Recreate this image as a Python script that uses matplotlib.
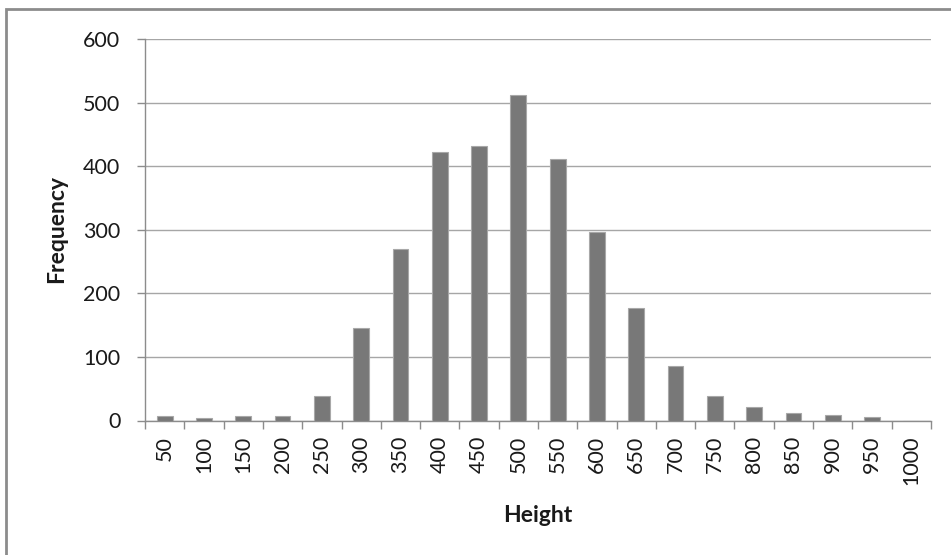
import matplotlib.pyplot as plt
from matplotlib.patches import Rectangle

# Height class upper bounds and counts
heights = ['50', '100', '150', '200', '250', '300', '350', '400', '450', '500',
           '550', '600', '650', '700', '750', '800', '850', '900', '950', '1000']
freq = [7, 4, 7, 7, 38, 145, 270, 423, 431, 512,
        412, 296, 177, 86, 39, 22, 12, 8, 5, 0]

plt.rcParams['font.family'] = ['Lato', 'DejaVu Sans']

fig = plt.figure(figsize=(9.51, 5.55), dpi=100)
ax = fig.add_axes([145 / 951, 1 - 420.5 / 555, (931 - 145) / 951, (420.5 - 39) / 555])

x = list(range(len(heights)))
ax.bar(x, freq, width=0.4, color='#787878', edgecolor='#a8a8a8', linewidth=0.8, zorder=3)

ax.set_xlim(-0.5, len(heights) - 0.5)
ax.set_ylim(0, 600)
ax.set_yticks(range(0, 601, 100))
ax.yaxis.grid(True, color='#a6a6a6', linewidth=1.0, zorder=0)

ax.set_xticks(x)
ax.set_xticklabels(heights, rotation=90, fontsize=15.5, color='#1a1a1a')
ax.set_xticks([i - 0.5 for i in range(len(heights) + 1)], minor=True)
ax.tick_params(axis='x', which='major', length=0, pad=11)
ax.tick_params(axis='x', which='minor', length=5.8, width=1.0, color='#8c8c8c')
ax.tick_params(axis='y', length=5.8, width=1.0, color='#8c8c8c', labelsize=15.5,
               labelcolor='#1a1a1a', pad=12)

for side in ['top', 'right']:
    ax.spines[side].set_visible(False)
for side in ['left', 'bottom']:
    ax.spines[side].set_color('#8c8c8c')
    ax.spines[side].set_linewidth(1.0)
ax.spines['left'].set_bounds(0, 600)

fig.text(57 / 951, 1 - 229 / 555, 'Frequency', rotation=90, fontsize=16.5,
         fontweight='bold', ha='center', va='center', color='#1a1a1a')
fig.text(538 / 951, 1 - 515 / 555, 'Height', fontsize=16.5,
         fontweight='bold', ha='center', va='center', color='#1a1a1a')

# outer chart frame (only left and top edges visible)
fig.patches.append(Rectangle((6 / 951, -0.05), 1.0, 1 - 9 / 555 + 0.05,
                             transform=fig.transFigure, fill=False,
                             edgecolor='#8c8c8c', linewidth=2.0))

fig.savefig('out.png', dpi=100)
